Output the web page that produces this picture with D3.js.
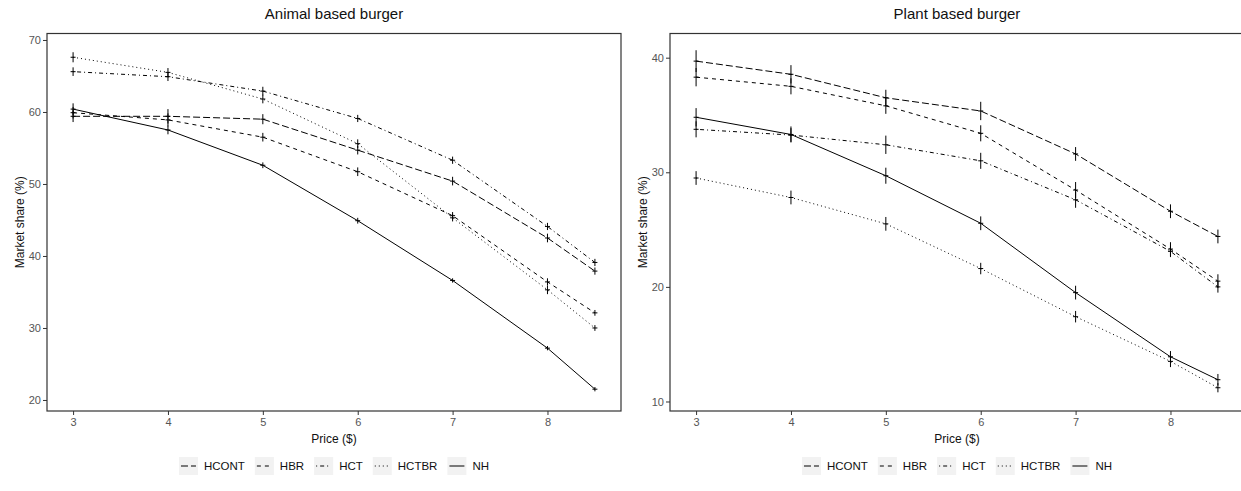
<!DOCTYPE html>
<html lang="en">
<head>
  <meta charset="utf-8" />
  <title>Market share by price</title>
  <script src="https://cdn.jsdelivr.net/npm/d3@7"></script>
  <style>
    html, body { margin: 0; padding: 0; background: #fff; }
    svg { display: block; font-family: "Liberation Sans", Arial, sans-serif; }
  </style>
</head>
<body>
  <div id="chart"></div>
  <script>
    // data
    const prices = [3, 4, 5, 6, 7, 8, 8.5];
    const groups = ["HCONT", "HBR", "HCT", "HCTBR", "NH"];
    const xTicks = [3, 4, 5, 6, 7, 8];

    const animalHCONT = [59.4, 59.4, 59.0, 54.7, 50.4, 42.5, 37.9];
    const animalHBR   = [59.9, 58.9, 56.5, 51.7, 45.6, 36.4, 32.1];
    const animalHCT   = [65.6, 64.9, 62.9, 59.1, 53.3, 44.1, 39.1];
    const animalHCTBR = [67.6, 65.5, 61.8, 55.6, 45.3, 35.3, 30.0];
    const animalNH    = [60.4, 57.5, 52.6, 44.9, 36.6, 27.2, 21.5];
    const animalErr = {
      HCONT: [0.8, 1.0, 0.7, 0.6, 0.6, 0.6, 0.5],
      HBR:   [0.8, 0.9, 0.6, 0.6, 0.5, 0.5, 0.4],
      HCT:   [0.6, 0.6, 0.6, 0.5, 0.5, 0.5, 0.5],
      HCTBR: [0.7, 0.6, 0.6, 0.6, 0.5, 0.6, 0.4],
      NH:    [0.8, 0.6, 0.4, 0.4, 0.3, 0.3, 0.3]
    };
    const animalTicks = [20, 30, 40, 50, 60, 70];

    const plantHCONT = [39.7, 38.55, 36.5, 35.35, 31.6, 26.6, 24.4];
    const plantHBR   = [38.3, 37.5, 35.8, 33.4, 28.45, 23.3, 20.5];
    const plantHCT   = [33.75, 33.25, 32.4, 31.0, 27.6, 23.1, 20.0];
    const plantHCTBR = [29.5, 27.8, 25.5, 21.6, 17.4, 13.5, 11.2];
    const plantNH    = [34.8, 33.3, 29.7, 25.55, 19.5, 13.9, 11.9];
    const plantErr = {
      HCONT: [0.95, 0.8, 0.7, 0.8, 0.6, 0.6, 0.6],
      HBR:   [0.8, 0.7, 0.7, 0.7, 0.7, 0.6, 0.6],
      HCT:   [0.7, 0.6, 0.8, 0.7, 0.7, 0.5, 0.5],
      HCTBR: [0.6, 0.6, 0.6, 0.5, 0.5, 0.5, 0.4],
      NH:    [0.8, 0.7, 0.7, 0.6, 0.6, 0.5, 0.5]
    };
    const plantTicks = [10, 20, 30, 40];

    // line types per group (R-style lty)
    const dash = { HCONT: "7 3", HBR: "4 4", HCT: "1 3 4 3", HCTBR: "1 3", NH: null };

    const width = 1241, height = 491;
    const panelTop = 33.5, panelBottom = 411;

    const svg = d3.select("#chart").append("svg")
      .attr("width", width).attr("height", height)
      .attr("viewBox", [0, 0, width, height]);

    svg.append("rect").attr("width", width).attr("height", height).attr("fill", "#fff");

    const panels = [
      {
        title: "Animal based burger", left: 47, right: 621,
        yDomain: [18.47, 70.9], ticks: animalTicks, err: animalErr,
        values: { HCONT: animalHCONT, HBR: animalHBR, HCT: animalHCT, HCTBR: animalHCTBR, NH: animalNH }
      },
      {
        title: "Plant based burger", left: 670, right: 1244,
        yDomain: [9.17, 42.11], ticks: plantTicks, err: plantErr,
        values: { HCONT: plantHCONT, HBR: plantHBR, HCT: plantHCT, HCTBR: plantHCTBR, NH: plantNH }
      }
    ];

    panels.forEach(p => {
      const x = d3.scaleLinear().domain([2.725, 8.775]).range([p.left, p.right]);
      const y = d3.scaleLinear().domain(p.yDomain).range([panelBottom, panelTop]);
      const g = svg.append("g");

      // x axis
      g.append("g")
        .attr("transform", `translate(0,${panelBottom})`)
        .call(d3.axisBottom(x).tickValues(xTicks).tickFormat(d3.format("d")).tickSize(4).tickPadding(3))
        .call(a => a.select(".domain").remove())
        .call(a => a.selectAll(".tick line").attr("stroke", "#333"))
        .call(a => a.selectAll(".tick text").attr("fill", "#555")
          .style("font-size", "11px").style("font-family", "Liberation Sans, Arial, sans-serif"));

      // y axis
      g.append("g")
        .attr("transform", `translate(${p.left},0)`)
        .call(d3.axisLeft(y).tickValues(p.ticks).tickSize(4).tickPadding(2))
        .call(a => a.select(".domain").remove())
        .call(a => a.selectAll(".tick line").attr("stroke", "#333"))
        .call(a => a.selectAll(".tick text").attr("fill", "#555")
          .style("font-size", "11px").style("font-family", "Liberation Sans, Arial, sans-serif"));

      // panel border
      g.append("rect")
        .attr("x", p.left).attr("y", panelTop)
        .attr("width", p.right - p.left).attr("height", panelBottom - panelTop)
        .attr("fill", "none").attr("stroke", "#333").attr("stroke-width", 1.2);

      const cx = (p.left + p.right) / 2;

      g.append("text")
        .attr("x", cx).attr("y", 19)
        .attr("text-anchor", "middle")
        .style("font-size", "15px").attr("fill", "#111")
        .text(p.title);

      g.append("text")
        .attr("x", cx).attr("y", 443)
        .attr("text-anchor", "middle")
        .style("font-size", "12px").attr("fill", "#111")
        .text("Price ($)");

      g.append("text")
        .attr("transform", `translate(${p.left - 27},${(panelTop + panelBottom) / 2}) rotate(-90)`)
        .attr("text-anchor", "middle").attr("dy", "0.35em")
        .style("font-size", "12px").attr("fill", "#111")
        .text("Market share (%)");

      const line = d3.line().x(d => x(d.price)).y(d => y(d.value));

      groups.forEach(k => {
        const pts = prices.map((pr, i) => ({ price: pr, value: p.values[k][i], e: p.err[k][i] }));
        g.append("path")
          .attr("d", line(pts))
          .attr("fill", "none").attr("stroke", "#000").attr("stroke-width", 1)
          .attr("stroke-dasharray", dash[k]);

        // error bars and point marks
        g.append("g").selectAll("line").data(pts).join("line")
          .attr("x1", d => x(d.price)).attr("x2", d => x(d.price))
          .attr("y1", d => y(d.value - d.e)).attr("y2", d => y(d.value + d.e))
          .attr("stroke", "#000").attr("stroke-width", 1);
        g.append("g").selectAll("line").data(pts).join("line")
          .attr("x1", d => x(d.price) - 2.5).attr("x2", d => x(d.price) + 2.5)
          .attr("y1", d => y(d.value)).attr("y2", d => y(d.value))
          .attr("stroke", "#000").attr("stroke-width", 1);
      });

      // legend
      const keyW = 19, keyH = 18, gapKT = 6, gapTK = 10;
      const leg = g.append("g").style("font-size", "11.5px");
      let cursor = 0;
      groups.forEach(k => {
        const item = leg.append("g").attr("transform", `translate(${cursor},0)`);
        item.append("rect").attr("x", 0).attr("y", -keyH / 2)
          .attr("width", keyW).attr("height", keyH).attr("fill", "#f2f2f2");
        item.append("line").attr("x1", 2).attr("x2", keyW - 2).attr("y1", 0).attr("y2", 0)
          .attr("stroke", "#000").attr("stroke-width", 1).attr("stroke-dasharray", dash[k]);
        const t = item.append("text").attr("x", keyW + gapKT).attr("dy", "0.35em")
          .attr("fill", "#111").text(k);
        cursor += keyW + gapKT + t.node().getComputedTextLength() + gapTK;
      });
      const legW = cursor - gapTK;
      leg.attr("transform", `translate(${cx - legW / 2},466)`);
    });
  </script>
</body>
</html>
